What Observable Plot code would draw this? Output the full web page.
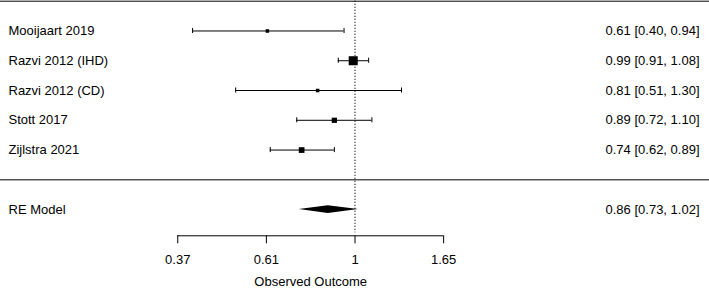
<!DOCTYPE html>
<html>
<head>
<meta charset="utf-8">
<script src="https://cdn.jsdelivr.net/npm/d3@7"></script>
<script src="https://cdn.jsdelivr.net/npm/@observablehq/plot@0.6"></script>
<style>
  html, body { margin: 0; padding: 0; background: #fff; }
</style>
</head>
<body>
<div id="chart"></div>
<script>
// ---- data ----
const studies = ["Mooijaart 2019", "Razvi 2012 (IHD)", "Razvi 2012 (CD)", "Stott 2017", "Zijlstra 2021"];
const estimates = [0.61, 0.99, 0.81, 0.89, 0.74];
const lowers = [0.40, 0.91, 0.51, 0.72, 0.62];
const uppers = [0.94, 1.08, 1.30, 1.10, 0.89];
const weights = [10, 33, 10, 17, 19];
const rows = [5, 4, 3, 2, 1];

const summaryLabel = "RE Model";
const summaryEstimate = 0.86;
const summaryLower = 0.73;
const summaryUpper = 1.02;
const summaryRow = -1;

const tickValues = [Math.exp(-1), Math.exp(-0.5), 1, Math.exp(0.5)];
const tickLabels = ["0.37", "0.61", "1", "1.65"];
const xLabel = "Observed Outcome";

// ---- build tables ----
const fmt = v => v.toFixed(2);
const studyData = studies.map((s, i) => ({
  study: s, est: estimates[i], lo: lowers[i], hi: uppers[i], w: weights[i], row: rows[i],
  annot: `${fmt(estimates[i])} [${fmt(lowers[i])}, ${fmt(uppers[i])}]`
}));
const summaryData = [{
  study: summaryLabel, row: summaryRow,
  annot: `${fmt(summaryEstimate)} [${fmt(summaryLower)}, ${fmt(summaryUpper)}]`
}];
const diamondHalf = 0.13;
const diamond = [
  {x: summaryLower, y1: summaryRow, y2: summaryRow},
  {x: summaryEstimate, y1: summaryRow - diamondHalf, y2: summaryRow + diamondHalf},
  {x: summaryUpper, y1: summaryRow, y2: summaryRow}
];
const ticks = tickValues.map((v, i) => ({v, label: tickLabels[i]}));

const axisRow = -1.88;
const topRow = 6;
const capHalf = 0.085;
const font = "Liberation Sans, Arial, Helvetica, sans-serif";

const chart = Plot.plot({
  width: 709,
  height: 288,
  marginLeft: 0,
  marginRight: 0,
  marginTop: 0.7,
  marginBottom: 52.7,
  style: {fontFamily: font, fontSize: "13px", background: "#fff", color: "#000", overflow: "visible"},
  x: {type: "log", domain: [Math.exp(-2), Math.exp(2)], axis: null},
  y: {domain: [axisRow, topRow], axis: null},
  r: {type: "linear", domain: [10, 33], range: [2.0, 5.1]},
  marks: [
    // horizontal frame lines
    Plot.ruleY([topRow, 0], {stroke: "#000", strokeWidth: 1}),
    // reference line
    Plot.ruleX([1], {y1: topRow, y2: axisRow + 0.1, stroke: "#000", strokeDasharray: "1,2", strokeWidth: 1.2}),
    // confidence intervals
    Plot.ruleY(studyData, {y: "row", x1: "lo", x2: "hi", stroke: "#000", strokeWidth: 1}),
    Plot.ruleX(studyData, {x: "lo", y1: d => d.row - capHalf, y2: d => d.row + capHalf, stroke: "#000"}),
    Plot.ruleX(studyData, {x: "hi", y1: d => d.row - capHalf, y2: d => d.row + capHalf, stroke: "#000"}),
    // squares
    Plot.dot(studyData, {x: "est", y: "row", r: "w", symbol: "square", fill: "#000", stroke: "none"}),
    // summary diamond
    Plot.areaY(diamond, {x: "x", y1: "y1", y2: "y2", fill: "#000", curve: "linear"}),
    // left labels
    Plot.text(studyData.concat(summaryData), {y: "row", text: "study", frameAnchor: "left", textAnchor: "start", dx: 8, fontSize: 13, fill: "#000"}),
    // right annotations
    Plot.text(studyData.concat(summaryData), {y: "row", text: "annot", frameAnchor: "right", textAnchor: "end", dx: -10, fontSize: 13, fill: "#000"}),
    // x axis
    Plot.ruleY([axisRow], {x1: tickValues[0], x2: tickValues[tickValues.length - 1], stroke: "#000"}),
    Plot.ruleX(ticks, {x: "v", y1: axisRow, y2: axisRow - 0.27, stroke: "#000"}),
    Plot.text(ticks, {x: "v", y: () => axisRow, text: "label", dy: 24, fontSize: 13, fill: "#000"}),
    Plot.text([xLabel], {x: () => Math.sqrt(tickValues[0] * tickValues[tickValues.length - 1]), y: () => axisRow, text: d => d, dy: 46, fontSize: 13, fill: "#000"})
  ]
});
document.getElementById("chart").appendChild(chart);
</script>
</body>
</html>
